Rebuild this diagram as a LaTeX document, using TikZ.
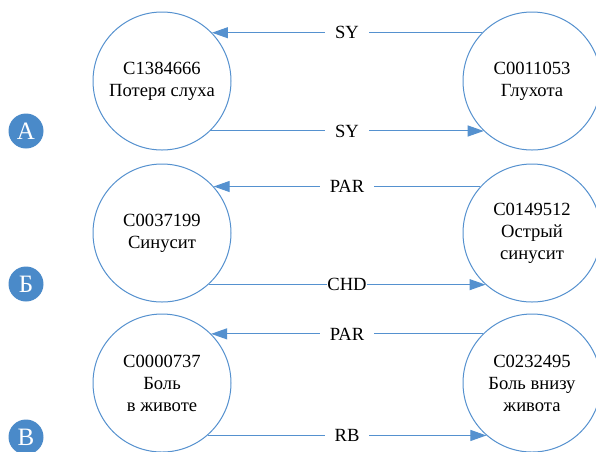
\documentclass[tikz,border=0pt]{standalone}
\usepackage{fontspec}
\setmainfont{Liberation Serif}
\usetikzlibrary{arrows.meta}
\definecolor{umls}{HTML}{5591CF}
\definecolor{tagblue}{HTML}{4A8AC9}
\begin{document}
\begin{tikzpicture}[
x=1pt, y=-1pt,
font=\fontsize{18.6}{22}\selectfont,
cui/.style = {draw=umls,circle,line width=1pt,minimum size=138pt,inner sep=0pt,align=center},
rel/.style = {-{Triangle[length=16pt,width=11pt]},draw=umls,line width=1pt},
lbl/.style = {fill=white,inner xsep=10pt,inner ysep=1pt},
tag/.style = {circle,fill=tagblue,text=white,minimum size=35pt,inner sep=0pt,font=\fontsize{25}{25}\selectfont}
]
  \clip (0,0) rectangle (596,451);
  \fill[white] (0,0) rectangle (596,451);

  \node[cui] (a1) at (162,81) {C1384666\\Потеря слуха};
  \node[cui] (a2) at (532,81) {C0011053\\Глухота};
  \node[cui] (b1) at (162,233) {C0037199\\Синусит};
  \node[cui] (b2) at (532,233) {C0149512\\Острый\\синусит};
  \node[cui] (c1) at (162,383) {C0000737\\Боль\\в животе};
  \node[cui] (c2) at (532,383) {C0232495\\Боль внизу\\живота};

  \node[tag] (ta) at (26,131) {А};
  \node[tag] (tb) at (26,284) {Б};
  \node[tag] (tc) at (26,437) {В};

  \draw[rel] (a2.136) -- (a1.44) node [midway, lbl] {SY};
  \draw[rel] (a1.-46) -- (a2.-134) node [midway, lbl] {SY};
  \draw[rel] (b2.138) -- (b1.42) node [midway, lbl] {PAR};
  \draw[rel] (b1.-48) -- (b2.-132) node [midway, lbl, inner xsep=0.5pt] {CHD};
  \draw[rel] (c2.135) -- (c1.45) node [midway, lbl] {PAR};
  \draw[rel] (c1.-49) -- (c2.-131) node [midway, lbl] {RB};
\end{tikzpicture}
\end{document}
